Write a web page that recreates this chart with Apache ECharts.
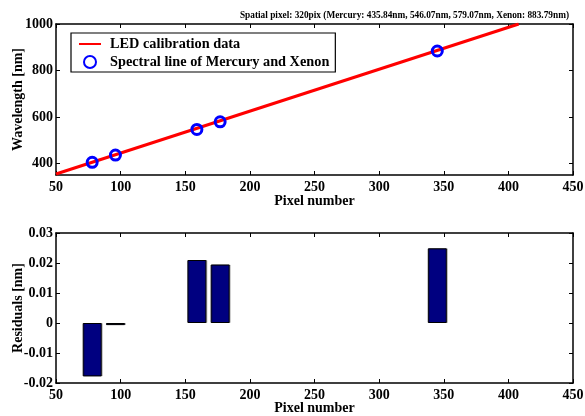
<!DOCTYPE html>
<html>
<head>
<meta charset="utf-8">
<script src="https://cdn.jsdelivr.net/npm/echarts@6/dist/echarts.min.js"></script>
<style>
  html, body { margin: 0; padding: 0; background: #fff; }
  #chart { width: 585px; height: 416px; }
</style>
</head>
<body>
<div id="chart"></div>
<script>
// Calibration fit (LED data) sampled along the pixel axis
const fitPixels = [50, 408];
const fitWavelengths = [354.5, 1000];

// Reference spectral lines (Mercury, Xenon) and the pixels where they fall
const linePixels = [78, 96, 159, 177, 345];
const lineWavelengths = [404.66, 435.84, 546.07, 579.07, 883.79];

// Fit residuals at each reference line
const residuals = [-0.0178, -0.0007, 0.021, 0.0195, 0.0249];

const pixelTicks = [50, 100, 150, 200, 250, 300, 350, 400, 450];
const wavelengthTicks = [400, 600, 800, 1000];
const residualTicks = [-0.02, -0.01, 0, 0.01, 0.02, 0.03];

const FONT = 'Liberation Serif';
const BLACK = '#000';

const tickStyle = { show: true, inside: true, length: 4, lineStyle: { color: BLACK, width: 1 } };
const lineStyle = { show: true, onZero: false, lineStyle: { color: BLACK, width: 1.5 } };
const labelStyle = { fontFamily: FONT, fontWeight: 'bold', fontSize: 14, color: BLACK };
const nameStyle = { fontFamily: FONT, fontWeight: 'bold', fontSize: 14, color: BLACK };
const plainNumber = v => String(+v.toFixed(4));

function pixelAxis(gridIndex, position, withLabels, nameGap) {
  return {
    type: 'value', gridIndex, position,
    min: 50, max: 450, interval: 50,
    axisLine: lineStyle,
    axisTick: tickStyle,
    splitLine: { show: false },
    axisLabel: withLabels ? Object.assign({ margin: 5, formatter: plainNumber }, labelStyle) : { show: false },
    name: withLabels ? 'Pixel number' : '',
    nameLocation: 'middle',
    nameGap: nameGap,
    nameMoveOverlap: false,
    nameTextStyle: nameStyle
  };
}

const chart = echarts.init(document.getElementById('chart'), null, { renderer: 'canvas' });

chart.setOption({
  animation: false,
  backgroundColor: '#fff',
  title: {
    text: 'Spatial pixel: 320pix (Mercury: 435.84nm, 546.07nm, 579.07nm, Xenon: 883.79nm)',
    right: 13, top: 8, padding: 3,
    textStyle: { fontFamily: FONT, fontWeight: 'bold', fontSize: 9.3, color: BLACK }
  },
  legend: {
    left: 71, top: 33,
    orient: 'vertical',
    backgroundColor: '#fff',
    borderColor: BLACK, borderWidth: 1.2,
    padding: [4, 6, 3, 7],
    itemWidth: 22, itemHeight: 12, itemGap: 4,
    textStyle: { fontFamily: FONT, fontWeight: 'bold', fontSize: 14.3, color: BLACK, padding: [0, 0, 0, 4] },
    data: [
      { name: 'LED calibration data', itemStyle: { opacity: 0 } },
      { name: 'Spectral line of Mercury and Xenon' }
    ]
  },
  grid: [
    { left: 56, right: 12, top: 24, bottom: 241, outerBoundsMode: 'none', containLabel: false },
    { left: 56, right: 12, top: 233, bottom: 33, outerBoundsMode: 'none', containLabel: false }
  ],
  xAxis: [
    pixelAxis(0, 'bottom', true, 19),
    pixelAxis(0, 'top', false, 0),
    pixelAxis(1, 'bottom', true, 18),
    pixelAxis(1, 'top', false, 0)
  ],
  yAxis: [
    {
      type: 'value', gridIndex: 0, position: 'left',
      min: 350, max: 1000,
      axisLine: lineStyle,
      axisTick: Object.assign({ customValues: wavelengthTicks }, tickStyle),
      axisLabel: Object.assign({ customValues: wavelengthTicks, margin: 3, formatter: plainNumber }, labelStyle),
      splitLine: { show: false },
      name: 'Wavelength [nm]', nameLocation: 'middle', nameGap: 31, nameMoveOverlap: false,
      nameTextStyle: nameStyle
    },
    {
      type: 'value', gridIndex: 0, position: 'right',
      min: 350, max: 1000,
      axisLine: lineStyle,
      axisTick: Object.assign({ customValues: wavelengthTicks }, tickStyle),
      axisLabel: { show: false },
      splitLine: { show: false }
    },
    {
      type: 'value', gridIndex: 1, position: 'left',
      min: -0.02, max: 0.03, interval: 0.01,
      axisLine: lineStyle,
      axisTick: tickStyle,
      axisLabel: Object.assign({ margin: 3, formatter: plainNumber }, labelStyle),
      splitLine: { show: false },
      name: 'Residuals [nm]', nameLocation: 'middle', nameGap: 31, nameMoveOverlap: false,
      nameTextStyle: nameStyle
    },
    {
      type: 'value', gridIndex: 1, position: 'right',
      min: -0.02, max: 0.03, interval: 0.01,
      axisLine: lineStyle,
      axisTick: tickStyle,
      axisLabel: { show: false },
      splitLine: { show: false }
    }
  ],
  series: [
    {
      name: 'LED calibration data',
      type: 'line',
      xAxisIndex: 0, yAxisIndex: 0,
      data: fitPixels.map((p, i) => [p, fitWavelengths[i]]),
      symbol: 'none',
      lineStyle: { color: '#ff0000', width: 3 },
      itemStyle: { color: '#ff0000' },
      z: 2
    },
    {
      name: 'Spectral line of Mercury and Xenon',
      type: 'scatter',
      xAxisIndex: 0, yAxisIndex: 0,
      data: linePixels.map((p, i) => [p, lineWavelengths[i]]),
      symbol: 'circle',
      symbolSize: 10,
      itemStyle: { color: 'rgba(255,255,255,0)', borderColor: '#0000ff', borderWidth: 3, opacity: 1 },
      z: 3
    },
    {
      name: 'Residuals',
      type: 'bar',
      xAxisIndex: 2, yAxisIndex: 2,
      data: linePixels.map((p, i) => [p, residuals[i]]),
      barWidth: 19,
      itemStyle: {
        color: '#000080', borderColor: BLACK, borderWidth: 1,
        shadowColor: 'rgba(0,0,0,0.25)', shadowOffsetX: 1, shadowBlur: 0
      }
    }
  ]
});
</script>
</body>
</html>
